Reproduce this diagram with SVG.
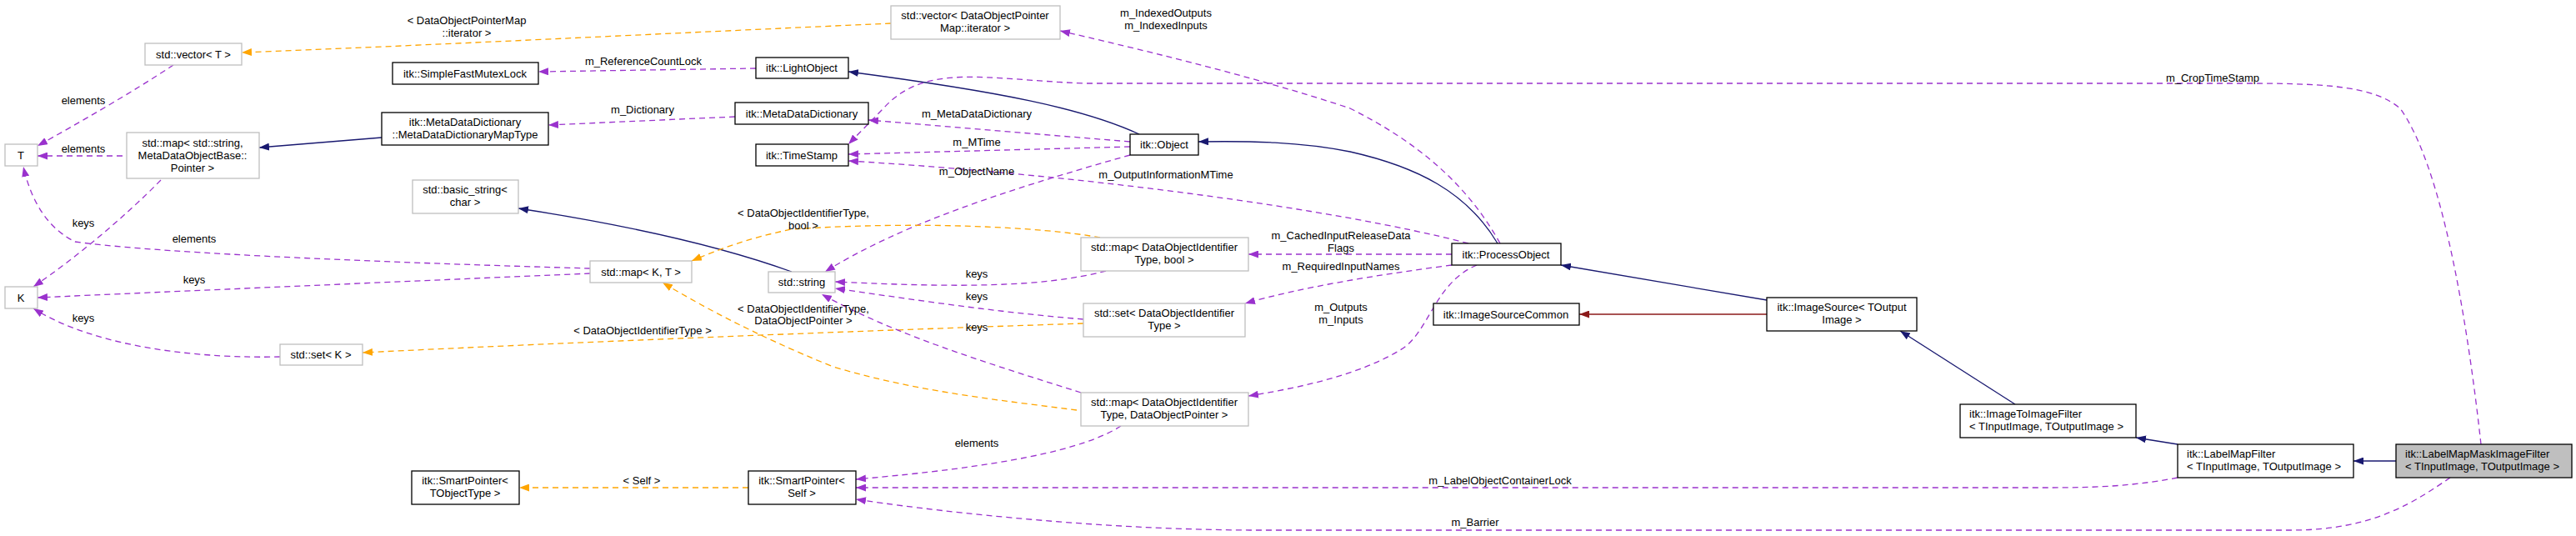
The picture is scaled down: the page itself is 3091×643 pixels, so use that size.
<svg xmlns="http://www.w3.org/2000/svg" width="3091" height="643" viewBox="0 0 3091 643">
<style>
text{font-family:"Liberation Sans",Arial,sans-serif;font-size:13px;fill:#000}
.n rect{fill:#fff;stroke:#000;stroke-width:1.3}
.u rect{fill:#fff;stroke:#bfbfbf;stroke-width:1.3}
.m rect{fill:#bfbfbf;stroke:#000;stroke-width:1.3}
.c{text-anchor:middle}
#edges path{fill:none;stroke-width:1.3}
.p{stroke:#9a32cd;stroke-dasharray:7,5}
.o{stroke:#ffa500;stroke-dasharray:7,5}
.v{stroke:#191970}
.r{stroke:#8b1a1a}
</style>
<defs>
<marker id="ap" markerUnits="userSpaceOnUse" markerWidth="12" markerHeight="9" refX="12" refY="4.5" orient="auto"><path d="M0,0L12,4.5L0,9z" fill="#9a32cd"/></marker>
<marker id="ao" markerUnits="userSpaceOnUse" markerWidth="12" markerHeight="9" refX="12" refY="4.5" orient="auto"><path d="M0,0L12,4.5L0,9z" fill="#ffa500"/></marker>
<marker id="an" markerUnits="userSpaceOnUse" markerWidth="12" markerHeight="9" refX="12" refY="4.5" orient="auto"><path d="M0,0L12,4.5L0,9z" fill="#191970"/></marker>
<marker id="ar" markerUnits="userSpaceOnUse" markerWidth="12" markerHeight="9" refX="12" refY="4.5" orient="auto"><path d="M0,0L12,4.5L0,9z" fill="#8b1a1a"/></marker>
</defs>
<rect width="3091" height="643" fill="#fff"/>
<g id="edges">
<path class="o" marker-end="url(#ao)" d="M1069,28 C800,40 500,55 290,63"/>
<path class="p" marker-end="url(#ap)" d="M208,78 C160,110 90,150 45,175"/>
<path class="p" marker-end="url(#ap)" d="M147,187 L45,187"/>
<path class="p" marker-end="url(#ap)" d="M708,322 C500,316 200,305 90,290 C50,270 35,230 28,200"/>
<path class="p" marker-end="url(#ap)" d="M193,216 C150,260 90,310 40,344"/>
<path class="p" marker-end="url(#ap)" d="M708,328 C500,337 200,350 45,357"/>
<path class="p" marker-end="url(#ap)" d="M336,428 C250,430 120,420 40,370"/>
<path class="v" marker-end="url(#an)" d="M458,165 L311,177"/>
<path class="p" marker-end="url(#ap)" d="M907,82 L646,86"/>
<path class="p" marker-end="url(#ap)" d="M882,140 L658,150"/>
<path class="v" marker-end="url(#an)" d="M1367,161 C1300,130 1200,110 1018,86"/>
<path class="p" marker-end="url(#ap)" d="M1356,170 L1042,144"/>
<path class="p" marker-end="url(#ap)" d="M1356,176 L1018,185"/>
<path class="p" marker-end="url(#ap)" d="M1762,292 C1600,250 1300,210 1018,193"/>
<path class="p" marker-end="url(#ap)" d="M1356,186 C1200,230 1080,270 990,326"/>
<path class="p" marker-end="url(#ap)" d="M2977,533 C2960,380 2930,200 2880,130 C2850,105 2800,100 2700,100 L1300,100 C1180,95 1110,75 1060,130 L1018,173"/>
<path class="p" marker-end="url(#ap)" d="M1800,292 C1760,220 1700,170 1620,130 C1500,90 1350,55 1272,37"/>
<path class="p" marker-end="url(#ap)" d="M1742,305 L1498,305"/>
<path class="p" marker-end="url(#ap)" d="M1742,318 C1650,330 1560,345 1494,364"/>
<path class="p" marker-end="url(#ap)" d="M1772,318 C1720,340 1715,400 1680,420 C1630,450 1560,465 1498,475"/>
<path class="v" marker-end="url(#an)" d="M1797,292 C1760,230 1700,200 1620,182 C1560,170 1500,169 1438,170"/>
<path class="v" marker-end="url(#an)" d="M2120,360 L1873,318"/>
<path class="r" marker-end="url(#ar)" d="M2120,377 L1895,377"/>
<path class="v" marker-end="url(#an)" d="M2418,485 L2280,397"/>
<path class="v" marker-end="url(#an)" d="M2613,533 L2563,525"/>
<path class="v" marker-end="url(#an)" d="M2875,553 L2824,553"/>
<path class="p" marker-end="url(#ap)" d="M2613,573 C2550,585 2500,585 2450,585 L1027,585"/>
<path class="p" marker-end="url(#ap)" d="M2940,573 C2900,600 2850,636 2750,636 L1500,636 C1300,635 1100,610 1027,599"/>
<path class="p" marker-end="url(#ap)" d="M1345,511 C1300,540 1200,560 1027,575"/>
<path class="o" marker-end="url(#ao)" d="M898,585 L623,585"/>
<path class="v" marker-end="url(#an)" d="M950,326 C850,290 720,265 622,250"/>
<path class="o" marker-end="url(#ao)" d="M1320,285 C1250,272 1100,265 950,275 C900,285 860,300 830,313"/>
<path class="p" marker-end="url(#ap)" d="M1327,325 C1250,345 1150,345 1002,338"/>
<path class="p" marker-end="url(#ap)" d="M1300,383 C1200,375 1100,360 1002,346"/>
<path class="o" marker-end="url(#ao)" d="M1300,388 C1000,398 700,410 435,423"/>
<path class="p" marker-end="url(#ap)" d="M1297,471 C1200,440 1080,405 986,353"/>
<path class="o" marker-end="url(#ao)" d="M1292,492 C1200,480 1100,470 1000,440 C900,400 830,360 795,339"/>
<text class="c" x="560" y="29">&lt; DataObjectPointerMap</text>
<text class="c" x="560" y="44">::iterator &gt;</text>
<text class="c" x="100" y="125">elements</text>
<text class="c" x="100" y="183">elements</text>
<text class="c" x="233" y="291">elements</text>
<text class="c" x="100" y="272">keys</text>
<text class="c" x="233" y="340">keys</text>
<text class="c" x="100" y="386">keys</text>
<text class="c" x="772" y="78">m_ReferenceCountLock</text>
<text class="c" x="771" y="136">m_Dictionary</text>
<text class="c" x="1172" y="141">m_MetaDataDictionary</text>
<text class="c" x="1172" y="175">m_MTime</text>
<text class="c" x="1172" y="210">m_ObjectName</text>
<text class="c" x="1399" y="214">m_OutputInformationMTime</text>
<text class="c" x="2655" y="98">m_CropTimeStamp</text>
<text class="c" x="1399" y="20">m_IndexedOutputs</text>
<text class="c" x="1399" y="35">m_IndexedInputs</text>
<text class="c" x="1609" y="287">m_CachedInputReleaseData</text>
<text class="c" x="1609" y="302">Flags</text>
<text class="c" x="1609" y="324">m_RequiredInputNames</text>
<text class="c" x="1609" y="373">m_Outputs</text>
<text class="c" x="1609" y="388">m_Inputs</text>
<text class="c" x="964" y="260">&lt; DataObjectIdentifierType,</text>
<text class="c" x="964" y="275">bool &gt;</text>
<text class="c" x="1172" y="333">keys</text>
<text class="c" x="1172" y="360">keys</text>
<text class="c" x="1172" y="397">keys</text>
<text class="c" x="771" y="401">&lt; DataObjectIdentifierType &gt;</text>
<text class="c" x="964" y="375">&lt; DataObjectIdentifierType,</text>
<text class="c" x="964" y="389">DataObjectPointer &gt;</text>
<text class="c" x="1172" y="536">elements</text>
<text class="c" x="770" y="581">&lt; Self &gt;</text>
<text class="c" x="1800" y="581">m_LabelObjectContainerLock</text>
<text class="c" x="1770" y="631">m_Barrier</text>
</g>
<g id="T" class="u"><rect x="6" y="173" width="39" height="26"/><text class="c" x="25" y="191">T</text></g>
<g id="K" class="u"><rect x="6" y="344" width="39" height="26"/><text class="c" x="25" y="362">K</text></g>
<g id="vecT" class="u"><rect x="174" y="52" width="116" height="26"/><text class="c" x="232" y="70">std::vector&lt; T &gt;</text></g>
<g id="mapStr" class="u"><rect x="152" y="159" width="159" height="55"/><text class="c" x="231" y="176">std::map&lt; std::string,</text><text class="c" x="231" y="191">MetaDataObjectBase::</text><text class="c" x="231" y="206">Pointer &gt;</text></g>
<g id="setK" class="u"><rect x="336" y="413" width="99" height="25"/><text class="c" x="385" y="430">std::set&lt; K &gt;</text></g>
<g id="mapKT" class="u"><rect x="708" y="313" width="122" height="26"/><text class="c" x="769" y="331">std::map&lt; K, T &gt;</text></g>
<g id="basicStr" class="u"><rect x="495" y="216" width="127" height="40"/><text class="c" x="558" y="232">std::basic_string&lt;</text><text class="c" x="558" y="247">char &gt;</text></g>
<g id="stdString" class="u"><rect x="922" y="326" width="80" height="25"/><text class="c" x="962" y="343">std::string</text></g>
<g id="spT" class="n"><rect x="494" y="565" width="129" height="40"/><text class="c" x="558" y="581">itk::SmartPointer&lt;</text><text class="c" x="558" y="596">TObjectType &gt;</text></g>
<g id="spSelf" class="n"><rect x="898" y="565" width="129" height="40"/><text class="c" x="962" y="581">itk::SmartPointer&lt;</text><text class="c" x="962" y="596">Self &gt;</text></g>
<g id="mutex" class="n"><rect x="471" y="75" width="175" height="26"/><text class="c" x="558" y="93">itk::SimpleFastMutexLock</text></g>
<g id="mapType" class="n"><rect x="458" y="135" width="200" height="39"/><text class="c" x="558" y="151">itk::MetaDataDictionary</text><text class="c" x="558" y="166">::MetaDataDictionaryMapType</text></g>
<g id="light" class="n"><rect x="907" y="69" width="111" height="25"/><text class="c" x="962" y="86">itk::LightObject</text></g>
<g id="mdd" class="n"><rect x="882" y="123" width="160" height="26"/><text class="c" x="962" y="141">itk::MetaDataDictionary</text></g>
<g id="ts" class="n"><rect x="907" y="173" width="111" height="26"/><text class="c" x="962" y="191">itk::TimeStamp</text></g>
<g id="vecIt" class="u"><rect x="1069" y="7" width="203" height="40"/><text class="c" x="1170" y="23">std::vector&lt; DataObjectPointer</text><text class="c" x="1170" y="38">Map::iterator &gt;</text></g>
<g id="obj" class="n"><rect x="1356" y="161" width="82" height="25"/><text class="c" x="1397" y="178">itk::Object</text></g>
<g id="mapBool" class="u"><rect x="1297" y="285" width="201" height="40"/><text class="c" x="1397" y="301">std::map&lt; DataObjectIdentifier</text><text class="c" x="1397" y="316">Type, bool &gt;</text></g>
<g id="setId" class="u"><rect x="1300" y="364" width="194" height="40"/><text class="c" x="1397" y="380">std::set&lt; DataObjectIdentifier</text><text class="c" x="1397" y="395">Type &gt;</text></g>
<g id="mapDOP" class="u"><rect x="1297" y="471" width="201" height="40"/><text class="c" x="1397" y="487">std::map&lt; DataObjectIdentifier</text><text class="c" x="1397" y="502">Type, DataObjectPointer &gt;</text></g>
<g id="po" class="n"><rect x="1742" y="292" width="131" height="26"/><text class="c" x="1807" y="310">itk::ProcessObject</text></g>
<g id="isc" class="n"><rect x="1720" y="364" width="175" height="26"/><text class="c" x="1807" y="382">itk::ImageSourceCommon</text></g>
<g id="is" class="n"><rect x="2120" y="357" width="180" height="40"/><text class="c" x="2210" y="373">itk::ImageSource&lt; TOutput</text><text class="c" x="2210" y="388">Image &gt;</text></g>
<g id="i2i" class="n"><rect x="2352" y="485" width="211" height="40"/><text x="2363" y="501">itk::ImageToImageFilter</text><text x="2363" y="516">&lt; TInputImage, TOutputImage &gt;</text></g>
<g id="lmf" class="n"><rect x="2613" y="533" width="211" height="40"/><text x="2624" y="549">itk::LabelMapFilter</text><text x="2624" y="564">&lt; TInputImage, TOutputImage &gt;</text></g>
<g id="lmm" class="m"><rect x="2875" y="533" width="211" height="40"/><text x="2886" y="549">itk::LabelMapMaskImageFilter</text><text x="2886" y="564">&lt; TInputImage, TOutputImage &gt;</text></g>
</svg>
